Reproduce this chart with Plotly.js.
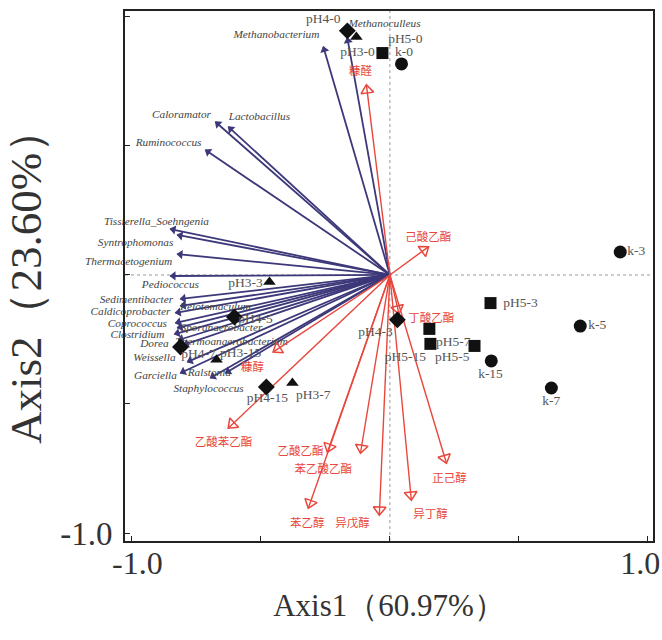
<!DOCTYPE html>
<html><head><meta charset="utf-8">
<script src="https://cdn.plot.ly/plotly-3.0.1.min.js"></script>
<style>html,body{margin:0;padding:0;background:#fff}</style>
</head><body><div id="chart" style="width:662px;height:640px"></div>
<script>
// Species (blue arrows)
const speciesNames = ["Methanobacterium","Methanoculleus","Caloramator","Lactobacillus","Ruminococcus",
  "Tissierella_Soehngenia","Syntrophomonas","Thermacetogenium","Pediococcus","Sedimentibacter",
  "Pelotomaculum","Caldicoprobacter","Coprococcus","Sporanaerobacter","Clostridium",
  "Thermoanaerobacterium","Dorea","Weissella","Garciella","Ralstonia","Staphylococcus"];
const speciesX = [-0.258,-0.165,-0.676,-0.626,-0.715,-0.851,-0.824,-0.824,-0.851,-0.812,
  -0.812,-0.831,-0.831,-0.824,-0.835,-0.820,-0.800,-0.785,-0.812,-0.696,-0.637];
const speciesY = [0.884,0.919,0.593,0.574,0.484,0.178,0.155,0.081,-0.004,-0.093,
  -0.120,-0.147,-0.186,-0.205,-0.229,-0.252,-0.271,-0.337,-0.380,-0.399,-0.380];
const speciesLabelX = [-0.440,-0.021,-0.808,-0.506,-0.858,-0.905,-0.986,-1.013,-0.851,-0.983,
  -0.676,-1.006,-0.979,-0.653,-0.979,-0.614,-0.913,-0.913,-0.909,-0.700,-0.703];
const speciesLabelY = [0.930,0.973,0.620,0.612,0.512,0.205,0.124,0.050,-0.039,-0.097,
  -0.124,-0.143,-0.190,-0.205,-0.233,-0.260,-0.267,-0.322,-0.391,-0.380,-0.442];

// Volatile compounds (red arrows)
const envNames = ["糠醛","己酸乙酯","丁酸乙酯","糠醇","乙酸苯乙酯","乙酸乙酯","苯乙酸乙酯","苯乙醇","异戊醇","异丁醇","正己醇"];
const envX = [-0.091,0.149,0.035,-0.452,-0.626,-0.242,-0.114,-0.316,-0.041,0.083,0.219];
const envY = [0.736,0.109,-0.150,-0.298,-0.593,-0.686,-0.690,-0.903,-0.930,-0.872,-0.729];
const envLabelX = [-0.114,0.149,0.160,-0.533,-0.645,-0.347,-0.258,-0.320,-0.145,0.157,0.231];
const envLabelY = [0.787,0.143,-0.171,-0.362,-0.651,-0.686,-0.756,-0.965,-0.965,-0.930,-0.791];

// Samples
const kNames = ["k-0","k-3","k-5","k-7","k-15"];
const kX = [0.045,0.893,0.738,0.626,0.393];
const kY = [0.818,0.089,-0.198,-0.438,-0.333];
const kLabelX = [0.055,0.955,0.804,0.626,0.390];
const kLabelY = [0.862,0.089,-0.198,-0.492,-0.388];

const pH5Names = ["pH5-0","pH5-3","pH5-7","pH5-15","pH5-5"];
const pH5X = [-0.029,0.390,0.153,0.157,0.328];
const pH5Y = [0.860,-0.109,-0.209,-0.267,-0.275];
const pH5LabelX = [0.060,0.506,0.246,0.060,0.242];
const pH5LabelY = [0.912,-0.112,-0.264,-0.322,-0.322];

const pH4Names = ["pH4-0","pH4-3","pH4-5","pH4-7","pH4-15"];
const pH4X = [-0.165,0.029,-0.603,-0.812,-0.479];
const pH4Y = [0.946,-0.174,-0.163,-0.279,-0.434];
const pH4LabelX = [-0.258,-0.056,-0.521,-0.742,-0.475];
const pH4LabelY = [0.988,-0.225,-0.174,-0.310,-0.481];

const pH3Names = ["pH3-0","pH3-3","pH3-15","pH3-7"];
const pH3X = [-0.130,-0.467,-0.672,-0.378];
const pH3Y = [0.922,-0.027,-0.329,-0.419];
const pH3LabelX = [-0.126,-0.560,-0.579,-0.297];
const pH3LabelY = [0.860,-0.035,-0.306,-0.469];

const xTickVals = [-1,-0.5,0,0.5,1];
const xLabelVals = [-0.979,0.971];
const xLabelText = ["-1.0","1.0"];
const yTickVals = [-1,-0.5,0,0.5,1];
const yTickText = ["-1.0","","","","1.0"];

const BLUE = "#3c3879";
const RED = "#e8473c";

function segs(xs, ys){
  const X=[],Y=[];
  xs.forEach((v,i)=>{X.push(0,v,null);Y.push(0,ys[i],null);});
  return {X,Y};
}
function heads(xs, ys, back){
  const X=[],Y=[],A=[];
  xs.forEach((v,i)=>{
    const L=Math.hypot(v,ys[i]);
    const ux=v/L, uy=ys[i]/L;
    X.push(v-ux*back); Y.push(ys[i]-uy*back);
    A.push(Math.atan2(v,ys[i])*180/Math.PI);
  });
  return {X,Y,A};
}

const traces=[];
const sS=segs(speciesX,speciesY);
traces.push({x:sS.X,y:sS.Y,mode:"lines",line:{color:BLUE,width:1.8},hoverinfo:"skip"});
const sH=heads(speciesX,speciesY,0.012);
traces.push({x:sH.X,y:sH.Y,mode:"markers",marker:{symbol:"triangle-up",size:8,color:BLUE,angle:sH.A,line:{width:0}},hoverinfo:"skip"});
traces.push({x:speciesLabelX,y:speciesLabelY,mode:"text",text:speciesNames,cliponaxis:false,
  textfont:{family:"Liberation Serif",size:11.3,color:"#444",style:"italic"},hoverinfo:"skip"});

const eS=segs(envX,envY);
traces.push({x:eS.X,y:eS.Y,mode:"lines",line:{color:RED,width:1.4},hoverinfo:"skip"});
const eH=heads(envX,envY,0.02);
traces.push({x:eH.X,y:eH.Y,mode:"markers",marker:{symbol:"triangle-up-open",size:11,color:RED,angle:eH.A,line:{width:1.5,color:RED}},hoverinfo:"skip"});
traces.push({x:envLabelX,y:envLabelY,mode:"text",text:envNames,cliponaxis:false,
  textfont:{family:"Noto Sans CJK SC",size:11.5,color:RED},hoverinfo:"skip"});

const groups=[
  [kX,kY,"circle",13],[pH5X,pH5Y,"square",12],[pH4X,pH4Y,"diamond",13],[pH3X,pH3Y,"triangle-up",11]
];
groups.forEach(g=>traces.push({x:g[0],y:g[1],mode:"markers",marker:{symbol:g[2],size:g[3],color:"#111"},hoverinfo:"skip"}));
const labels=[[kLabelX,kLabelY,kNames],[pH5LabelX,pH5LabelY,pH5Names],[pH4LabelX,pH4LabelY,pH4Names],[pH3LabelX,pH3LabelY,pH3Names]];
labels.forEach(l=>traces.push({x:l[0],y:l[1],mode:"text",text:l[2],cliponaxis:false,
  textfont:{family:"Liberation Serif",size:13.5,color:"#555"},hoverinfo:"skip"}));
// invisible trace to activate label axis
traces.push({x:[0],y:[0],xaxis:"x2",yaxis:"y",mode:"markers",marker:{opacity:0},hoverinfo:"skip"});

const layout={
  width:662,height:640,showlegend:false,
  paper_bgcolor:"#fff",plot_bgcolor:"#fff",
  margin:{l:125,r:9,t:11,b:99},
  xaxis:{range:[-1.027,1.02],tickvals:xTickVals,showticklabels:false,ticks:"inside",ticklen:5,tickcolor:"#222",
    showline:true,mirror:true,linecolor:"#222",linewidth:2,showgrid:false,zeroline:false,
    title:{text:"Axis1（60.97%）",font:{family:"Liberation Serif",size:31,color:"#333"},standoff:52}},
  xaxis2:{overlaying:"x",side:"bottom",range:[-1.027,1.02],tickvals:xLabelVals,ticktext:xLabelText,ticks:"",
    showline:false,showgrid:false,zeroline:false,ticklabeloverflow:"allow",
    tickfont:{family:"Liberation Serif",size:32,color:"#333"}},
  yaxis:{range:[-1.031,1.023],tickvals:yTickVals,ticktext:yTickText,ticks:"inside",ticklen:5,tickcolor:"#222",
    showline:true,mirror:true,linecolor:"#222",linewidth:2,showgrid:false,zeroline:false,
    tickfont:{family:"Liberation Serif",size:33,color:"#333"},ticklabelstandoff:4,
    title:{text:"Axis2（23.60%）",font:{family:"Liberation Serif",size:45,color:"#333"},standoff:4}},
  shapes:[
    {type:"line",xref:"x",yref:"paper",x0:0,x1:0,y0:0,y1:1,line:{color:"#999",width:1,dash:"dot"},layer:"below"},
    {type:"line",xref:"paper",yref:"y",x0:0,x1:1,y0:0,y1:0,line:{color:"#999",width:1,dash:"dot"},layer:"below"}
  ]
};
Plotly.newPlot("chart",traces,layout,{displayModeBar:false,staticPlot:true});
</script></body></html>
